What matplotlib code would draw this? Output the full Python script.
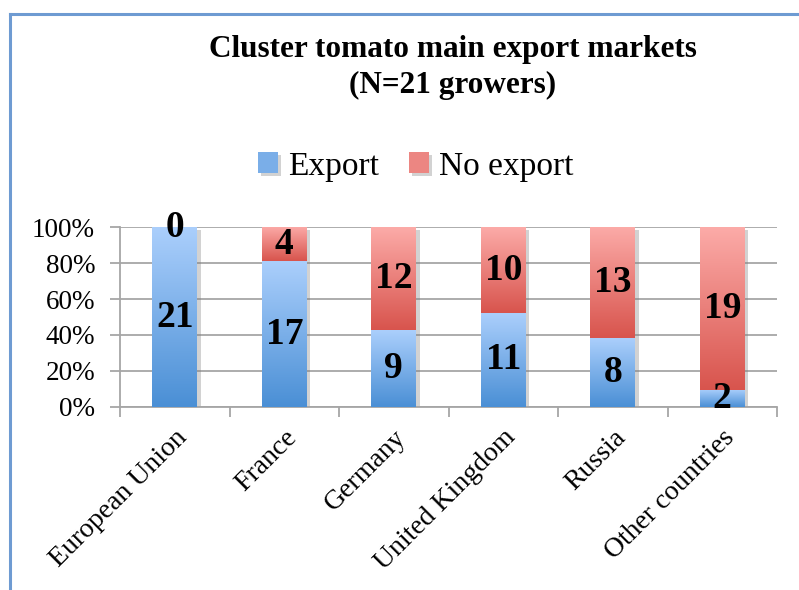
import numpy as np
import matplotlib
matplotlib.use('Agg')
import matplotlib.pyplot as plt
from matplotlib.lines import Line2D
from matplotlib.colors import to_rgb
import matplotlib.patheffects as pe

matplotlib.rc('font', family='Liberation Serif')

markets = ['European Union', 'France', 'Germany', 'United Kingdom', 'Russia', 'Other countries']
export = [21, 17, 9, 11, 8, 2]
no_export = [0, 4, 12, 10, 13, 19]
y_ticks = [0, 20, 40, 60, 80, 100]

# percentages for the 100% stacked bars
total = np.array(export) + np.array(no_export)
export_pct = np.array(export) / total * 100
no_export_pct = np.array(no_export) / total * 100

fig = plt.figure(figsize=(7.99, 5.90), dpi=100)
ax = fig.add_axes([0.1502, 0.3107, 0.8223, 0.304])

x = np.arange(len(markets))
grey = '#a6a6a6'
shadow = [pe.SimplePatchShadow(offset=(2.5, -2), shadow_rgbFace='#808080', alpha=0.35), pe.Normal()]

b1 = ax.bar(x, export_pct, 0.41, color='#7aaee8', label='Export', zorder=2,
            path_effects=shadow)
b2 = ax.bar(x, no_export_pct, 0.41, bottom=export_pct, color='#ec8682',
            label='No export', zorder=2, path_effects=shadow)


def gradient(top, bottom):
    t = np.linspace(0, 1, 256)[:, None, None]
    return (1 - t) * np.array(to_rgb(top)) + t * np.array(to_rgb(bottom))


blue_grad = gradient('#abcffc', '#4a8fd5')
red_grad = gradient('#fcaba8', '#d8544d')

# fill every bar segment with its gradient
for bars, grad in [(b1, blue_grad), (b2, red_grad)]:
    for p in bars:
        if p.get_height() <= 0:
            continue
        x0, y0 = p.get_x(), p.get_y()
        im = ax.imshow(grad, extent=[x0, x0 + p.get_width(), y0, y0 + p.get_height()],
                       origin='upper', aspect='auto', zorder=3, interpolation='bilinear')
        im.set_clip_path(p)

for bars, vals in [(b1, export), (b2, no_export)]:
    labs = ax.bar_label(bars, labels=[str(v) for v in vals], label_type='center',
                        fontsize=27, fontweight='bold')
    for t in labs:
        t.set_zorder(6)

ax.set_xlim(-0.5, len(markets) - 0.5)
ax.set_ylim(0, 100)
ax.set_yticks(y_ticks)
ax.set_yticklabels([f'{v}%' for v in y_ticks], fontsize=19.5)
ax.set_xticks(x)
ax.set_xticklabels(markets, fontsize=20, rotation=45, ha='right', rotation_mode='anchor')
ax.set_xticks(np.arange(len(markets) + 1) - 0.5, minor=True)
ax.tick_params(axis='x', which='major', length=0, pad=13)
ax.tick_params(axis='x', which='minor', length=7, color=grey, width=1.3)
ax.tick_params(axis='y', length=7, color=grey, width=1.3, pad=11)

ax.grid(axis='y', color=grey, lw=1.3, zorder=0)
ax.set_axisbelow(True)
for s in ['top', 'right']:
    ax.spines[s].set_visible(False)
for s in ['left', 'bottom']:
    ax.spines[s].set_color(grey)
    ax.spines[s].set_linewidth(1.3)

fig.text(0.567, 0.886, 'Cluster tomato main export markets\n(N=21 growers)',
         ha='center', va='center', fontsize=22.5, fontweight='bold', linespacing=1.3)

fig.legend(handles=[b1, b2], loc='center', bbox_to_anchor=(0.52, 0.718), ncol=2,
           frameon=False, fontsize=24, handlelength=0.6, handleheight=0.6,
           handletextpad=0.3, columnspacing=0.9)

# outer chart border (cropped at right/bottom)
fig.add_artist(Line2D([10 / 799, 1], [1 - 14 / 590] * 2, transform=fig.transFigure,
                      color='#6e9bd2', lw=2.2))
fig.add_artist(Line2D([10 / 799] * 2, [0, 1 - 14 / 590], transform=fig.transFigure,
                      color='#6e9bd2', lw=2.2))

fig.savefig('out.png', dpi=100)
